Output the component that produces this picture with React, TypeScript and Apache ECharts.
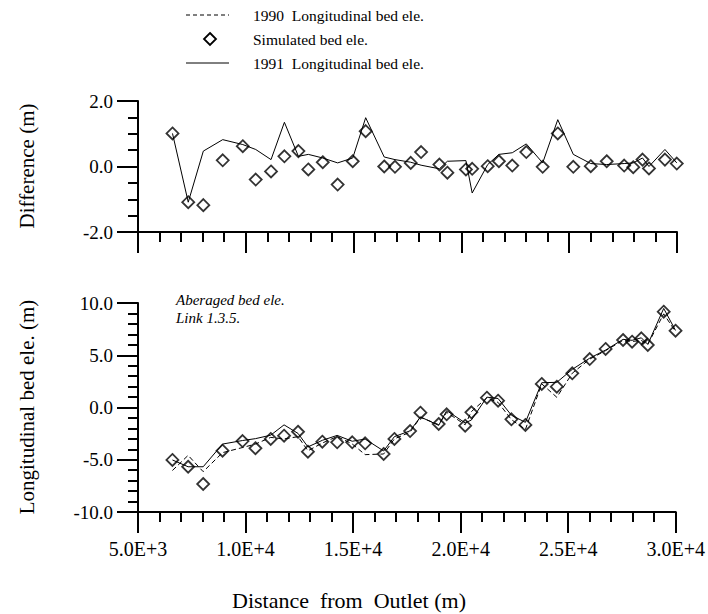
import React, { useEffect, useRef } from 'react';
import * as echarts from 'echarts';

const FONT = 'Liberation Serif, Times New Roman, serif';

const distance = [6600, 7330, 8030, 8930, 9860, 10460, 11170, 11790, 12440, 12900, 13570, 14260, 14960, 15560, 16420, 16920, 17650, 18130, 18980, 19350, 20210, 20500, 21220, 21740, 22360, 23010, 23770, 24470, 25190, 26000, 26740, 27550, 27970, 28400, 28700, 29440, 29990];

const bed1990 = [-6.03, -4.58, -6.14, -4.32, -3.83, -3.5, -2.86, -3.01, -2.79, -4.14, -3.4, -2.78, -3.49, -4.51, -4.45, -3.0, -2.36, -0.94, -1.64, -0.46, -1.65, -0.39, 0.93, 0.49, -1.16, -2.11, 2.26, 0.98, 3.28, 4.63, 5.44, 6.43, 6.32, 6.41, 6.04, 8.96, 7.26];
const bed1991 = [-5.02, -5.67, -5.67, -3.5, -3.16, -2.98, -2.65, -1.66, -2.48, -3.77, -3.14, -2.67, -3.23, -3.02, -4.16, -2.79, -2.23, -0.9, -1.71, -0.3, -1.47, -1.2, 0.99, 0.86, -0.74, -1.42, 2.37, 2.41, 3.65, 4.72, 5.5, 6.52, 6.43, 6.67, 6.04, 9.48, 7.37];
const simulated = [-5.02, -5.67, -7.32, -4.13, -3.21, -3.9, -3.01, -2.7, -2.32, -4.23, -3.27, -3.33, -3.33, -3.43, -4.45, -3.01, -2.25, -0.5, -1.58, -0.65, -1.74, -0.46, 0.94, 0.65, -1.13, -1.67, 2.25, 1.99, 3.27, 4.64, 5.6, 6.46, 6.3, 6.62, 5.98, 9.17, 7.35];

const diff1991 = [1.01, -1.09, 0.47, 0.82, 0.67, 0.52, 0.21, 1.35, 0.31, 0.37, 0.26, 0.11, 0.26, 1.49, 0.29, 0.21, 0.13, 0.04, -0.07, 0.16, 0.18, -0.81, 0.06, 0.37, 0.42, 0.69, 0.11, 1.43, 0.37, 0.09, 0.06, 0.09, 0.11, 0.26, 0.0, 0.52, 0.11];
const diffSimulated = [1.01, -1.09, -1.18, 0.19, 0.62, -0.4, -0.15, 0.31, 0.47, -0.09, 0.13, -0.55, 0.16, 1.08, 0.0, -0.01, 0.11, 0.44, 0.06, -0.19, -0.09, -0.07, 0.01, 0.16, 0.03, 0.44, -0.01, 1.01, -0.01, 0.01, 0.16, 0.03, -0.02, 0.21, -0.06, 0.21, 0.09];

const xTicks = [5000, 10000, 15000, 20000, 25000, 30000];
const xTickLabels = ['5.0E+3', '1.0E+4', '1.5E+4', '2.0E+4', '2.5E+4', '3.0E+4'];

const legendLabels = ['1990  Longitudinal bed ele.', 'Simulated bed ele.', '1991  Longitudinal bed ele.'];

export default function App() {
  const ref = useRef<HTMLDivElement>(null);
  useEffect(() => {
    const chart = echarts.init(ref.current!, null, { renderer: 'svg' });
    const pair = (ys: number[]) => distance.map((x, i) => [x, ys[i]]);
    const black = '#000';
    const xAxis = (gridIndex: number, showLabel: boolean) => ({
      type: 'value',
      gridIndex,
      min: 5000,
      max: 30000,
      interval: 5000,
      axisLine: { show: true, onZero: false, lineStyle: { color: black, width: 2 } },
      axisTick: { show: true, length: 21, lineStyle: { color: black, width: 2 } },
      minorTick: { show: true, splitNumber: 5, length: 10, lineStyle: { color: black, width: 2 } },
      splitLine: { show: false },
      minorSplitLine: { show: false },
      axisLabel: {
        show: showLabel,
        margin: 27,
        color: black,
        fontFamily: FONT,
        fontSize: 20,
        formatter: (v: number) => {
          const i = xTicks.indexOf(v);
          return i >= 0 ? xTickLabels[i] : '';
        },
      },
    });
    const yAxis = (gridIndex: number, min: number, max: number, interval: number, minorSplit: number) => ({
      type: 'value',
      gridIndex,
      min,
      max,
      interval,
      axisLine: { show: true, onZero: false, lineStyle: { color: black, width: 2 } },
      axisTick: { show: true, length: 21, lineStyle: { color: black, width: 2 } },
      minorTick: { show: true, splitNumber: minorSplit, length: 10, lineStyle: { color: black, width: 2 } },
      splitLine: { show: false },
      minorSplitLine: { show: false },
      axisLabel: { margin: 25, color: black, fontFamily: FONT, fontSize: 19, formatter: (v: number) => v.toFixed(1) },
    });
    const diamond = {
      type: 'scatter',
      symbol: 'diamond',
      symbolSize: 12,
      itemStyle: { color: 'rgba(255,255,255,0)', borderColor: black, borderWidth: 1.8 },
      z: 5,
    };
    const textEl = (text: string, x: number, y: number, fontSize: number, extra: any = {}) => ({
      type: 'text',
      x,
      y,
      ...extra.el,
      style: { text, fill: black, fontFamily: FONT, fontSize, align: 'left', verticalAlign: 'middle', ...extra.style },
    });
    chart.setOption({
      animation: false,
      backgroundColor: '#fff',
      textStyle: { fontFamily: FONT },
      grid: [
        { left: 138, right: 31, top: 101, height: 131 },
        { left: 138, right: 31, top: 303, height: 209 },
      ],
      xAxis: [xAxis(0, false), xAxis(1, true)],
      yAxis: [yAxis(0, -2, 2, 2, 4), yAxis(1, -10, 10, 5, 5)],
      series: [
        { type: 'line', xAxisIndex: 0, yAxisIndex: 0, data: pair(diff1991), symbol: 'none', lineStyle: { color: black, width: 1 } },
        { ...diamond, xAxisIndex: 0, yAxisIndex: 0, data: pair(diffSimulated) },
        { type: 'line', xAxisIndex: 1, yAxisIndex: 1, data: pair(bed1990), symbol: 'none', lineStyle: { color: black, width: 1, type: [5, 3] } },
        { type: 'line', xAxisIndex: 1, yAxisIndex: 1, data: pair(bed1991), symbol: 'none', lineStyle: { color: black, width: 1 } },
        { ...diamond, xAxisIndex: 1, yAxisIndex: 1, data: pair(simulated) },
      ],
      graphic: [
        { type: 'line', shape: { x1: 186, y1: 15, x2: 229, y2: 15 }, style: { stroke: black, lineWidth: 1, lineDash: [4, 3] } },
        { type: 'polygon', shape: { points: [[210, 33], [216, 39], [210, 45], [204, 39]] }, style: { fill: '#fff', stroke: black, lineWidth: 1.8 } },
        { type: 'line', shape: { x1: 186, y1: 63, x2: 229, y2: 63 }, style: { stroke: black, lineWidth: 1 } },
        textEl(legendLabels[0], 253, 15, 15.5),
        textEl(legendLabels[1], 253, 39, 15.5),
        textEl(legendLabels[2], 253, 63, 15.5),
        textEl('Difference (m)', 27, 166, 21, { el: { rotation: Math.PI / 2 }, style: { align: 'center' } }),
        textEl('Longitudinal bed ele. (m)', 27, 407, 21, { el: { rotation: Math.PI / 2 }, style: { align: 'center' } }),
        textEl('Distance  from  Outlet (m)', 349, 600, 22, { style: { align: 'center' } }),
        textEl('Aberaged bed ele.', 176, 300, 15, { style: { fontStyle: 'italic' } }),
        textEl('Link 1.3.5.', 176, 318, 15, { style: { fontStyle: 'italic' } }),
      ],
    });
    return () => chart.dispose();
  }, []);
  return <div ref={ref} style={{ position: 'fixed', left: 0, top: 0, width: 708, height: 614, background: '#fff' }} />;
}
